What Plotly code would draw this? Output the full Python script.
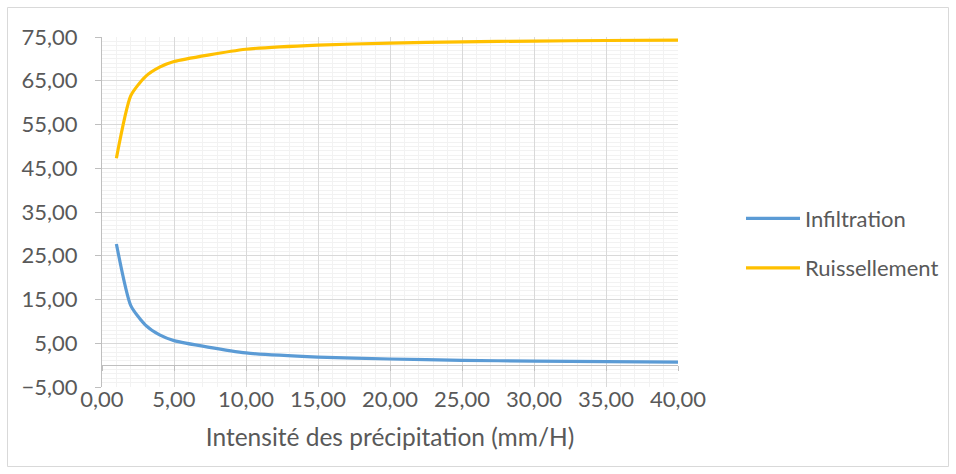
import plotly.graph_objects as go

# Data
intensite = [1, 2, 3, 4, 5, 10, 15, 20, 25, 30, 35, 40]
infiltration = [27.7, 13.6, 9.2, 6.9, 5.6, 2.8, 1.85, 1.4, 1.1, 0.92, 0.8, 0.7]
ruissellement = [47.3, 61.6, 65.9, 68.1, 69.4, 72.2, 73.15, 73.6, 73.9, 74.08, 74.2, 74.3]

x_ticks = [0, 5, 10, 15, 20, 25, 30, 35, 40]
y_ticks = [-5, 5, 15, 25, 35, 45, 55, 65, 75]

FONT = "Lato"
TXT = "#595959"
MAJOR = "#d9d9d9"
MINOR = "#f2f2f2"
TICK_SIZE = 22
TITLE_SIZE = 24.5

fig = go.Figure()
fig.add_trace(go.Scatter(x=intensite, y=infiltration, name="Infiltration",
                         mode="lines", line=dict(color="#5B9BD5", width=3.2, shape="spline", smoothing=0.6),
                         legendgroup="a"))
fig.add_trace(go.Scatter(x=intensite, y=ruissellement, name="Ruissellement",
                         mode="lines", line=dict(color="#FFC000", width=3.2, shape="spline", smoothing=0.6),
                         legendgroup="b"))

W, H = 956, 474
L, R, T, B = 102, 678, 37, 387

def px2x(p):
    return (p - L) / (R - L)

def py2y(p):
    return (B - p) / (B - T)

fig.update_layout(
    width=W, height=H,
    margin=dict(l=L, r=W - R, t=T, b=H - B),
    paper_bgcolor="white", plot_bgcolor="white",
    separators=", ",
    font=dict(family=FONT, size=TICK_SIZE, color=TXT),
    showlegend=True,
    legend=dict(x=px2x(741), y=py2y(243.5), xanchor="left", yanchor="middle",
                bgcolor="rgba(0,0,0,0)", tracegroupgap=18,
                font=dict(family=FONT, size=TICK_SIZE, color=TXT), itemwidth=54),
    xaxis=dict(range=[0, 40], tickvals=x_ticks, tickformat=".2f",
               showgrid=True, gridcolor=MAJOR, gridwidth=1,
               minor=dict(dtick=1, tick0=0, showgrid=True, gridcolor=MINOR, gridwidth=1),
               showline=False, zeroline=False, ticks="", ticklabelstandoff=-3,
               title=dict(text="Intensité des précipitation (mm/H)", standoff=17,
                          font=dict(family=FONT, size=TITLE_SIZE, color=TXT)),
               fixedrange=True),
    xaxis2=dict(range=[0, 40], overlaying="x", anchor="free", position=(0 - (-5)) / 80,
                showgrid=False, zeroline=False, showticklabels=False,
                showline=True, linecolor="#bfbfbf", linewidth=1,
                tickvals=x_ticks, ticks="outside", ticklen=5, tickcolor="#bfbfbf"),
    yaxis=dict(range=[-5, 75], tickvals=y_ticks, tickformat=".2f",
               showgrid=True, gridcolor=MAJOR, gridwidth=1,
               minor=dict(dtick=1, tick0=0, showgrid=True, gridcolor=MINOR, gridwidth=1),
               showline=True, linecolor="#bfbfbf", linewidth=1,
               ticks="outside", ticklen=6, tickcolor="#bfbfbf",
               ticklabelstandoff=13, zeroline=False, fixedrange=True),
)

# invisible helper trace so the y=0 horizontal axis is drawn
fig.add_trace(go.Scatter(x=[0, 40], y=[None, None], xaxis="x2", showlegend=False,
                         hoverinfo="skip", mode="lines"))

# outer chart border
fig.add_shape(type="rect", xref="paper", yref="paper",
              x0=px2x(7.5), x1=px2x(948.5), y0=py2y(466.5), y1=py2y(7.5),
              line=dict(color="#d9d9d9", width=1), fillcolor="rgba(0,0,0,0)", layer="below")

fig.write_html("out.html")
